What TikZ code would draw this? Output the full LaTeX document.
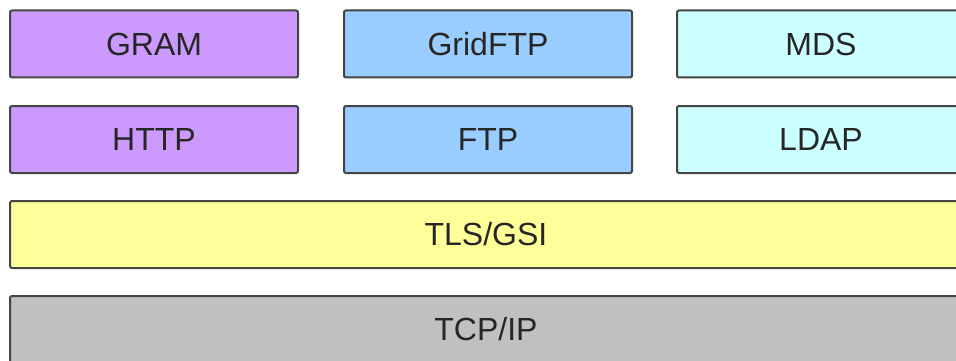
\documentclass[tikz,border=0pt]{standalone}
\usepackage{fontspec}
\setmainfont{Liberation Sans}
\usepackage{xcolor}
\usetikzlibrary{shapes,positioning}

\definecolor{gramcol}{HTML}{CC99FF}
\definecolor{ftpcol}{HTML}{99CCFF}
\definecolor{mdscol}{HTML}{CCFFFF}
\definecolor{tlscol}{HTML}{FFFF99}
\definecolor{tcpcol}{HTML}{C0C0C0}
\definecolor{edgecol}{HTML}{454545}

\begin{document}
\begin{tikzpicture}[x=1pt, y=-1pt,
    layer/.style={rectangle, draw=edgecol, line width=2pt, rounded corners=2pt, text=black!85, font=\fontsize{32}{36}\selectfont, minimum height=67pt, inner sep=0pt},
    service/.style={layer, minimum width=288pt},
    wide/.style={layer, minimum width=952pt}
]

\useasboundingbox (0,0) rectangle (956,361);
\clip (0,0) rectangle (956,361);

% Services
\node[service, fill=gramcol] (gram) at (154, 44) {GRAM};
\node[service, fill=ftpcol] (gridftp) at (488, 44) {GridFTP};
\node[service, fill=mdscol] (mds) at (821, 44) {MDS};

% Protocols
\node[service, fill=gramcol] (http) at (154, 139.5) {HTTP};
\node[service, fill=ftpcol] (ftp) at (488, 139.5) {FTP};
\node[service, fill=mdscol] (ldap) at (821, 139.5) {LDAP};

% Security and transport
\node[wide, fill=tlscol] (tls) at (486, 234.5) {TLS/GSI};
\node[wide, fill=tcpcol] (tcp) at (486, 329.5) {TCP/IP};

\end{tikzpicture}
\end{document}
